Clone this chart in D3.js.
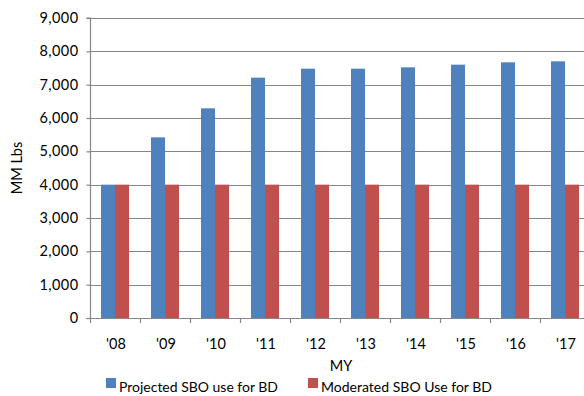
<!DOCTYPE html>
<html>
<head>
<meta charset="utf-8">
<script src="https://cdn.jsdelivr.net/npm/d3@7"></script>
<style>
  html, body { margin: 0; padding: 0; background: #fff; }
  svg { display: block; }
  text { font-family: Lato, "Open Sans", sans-serif; fill: #000; }
</style>
</head>
<body>
<svg id="chart" width="584" height="396"></svg>
<script>
// Marketing years and soybean oil (SBO) use for biodiesel, million lbs
const years = ["'08", "'09", "'10", "'11", "'12", "'13", "'14", "'15", "'16", "'17"];
const projected = [4000, 5420, 6290, 7210, 7480, 7480, 7520, 7600, 7670, 7700];
const moderated = [4000, 4000, 4000, 4000, 4000, 4000, 4000, 4000, 4000, 4000];
const seriesNames = ["Projected SBO use for BD", "Moderated SBO Use for BD"];
const seriesColors = ["#4F81BD", "#C0504D"];
const yTicks = [0, 1000, 2000, 3000, 4000, 5000, 6000, 7000, 8000, 9000];

const svg = d3.select("#chart");
const W = 584, H = 396;
const m = { left: 90, top: 18, right: 590, bottom: 318 };

const x0 = d3.scaleBand().domain(years).range([m.left, m.right])
  .paddingInner(0.44).paddingOuter(0.22);
const x1 = d3.scaleBand().domain([0, 1]).range([0, x0.bandwidth()]);
const y = d3.scaleLinear().domain([0, 9000]).range([m.bottom, m.top]);

const grid = "#868686";

// horizontal gridlines
svg.append("g").selectAll("line").data(yTicks.filter(d => d > 0)).join("line")
  .attr("x1", m.left).attr("x2", W)
  .attr("y1", d => Math.round(y(d)) + 0.5).attr("y2", d => Math.round(y(d)) + 0.5)
  .attr("stroke", grid).attr("stroke-width", 1.2);

// bars
const data = years.map((yr, i) => ({ yr, vals: [projected[i], moderated[i]] }));
const groups = svg.append("g").selectAll("g").data(data).join("g")
  .attr("transform", d => `translate(${x0(d.yr)},0)`);
groups.selectAll("rect").data(d => d.vals.map((v, k) => ({ v, k }))).join("rect")
  .attr("x", d => x1(d.k))
  .attr("width", x1.bandwidth())
  .attr("y", d => y(d.v))
  .attr("height", d => y(0) - y(d.v))
  .attr("fill", d => seriesColors[d.k]);

// y axis
const yAxis = d3.axisLeft(y).tickValues(yTicks).tickSize(4).tickPadding(8)
  .tickFormat(d3.format(","));
const yg = svg.append("g").attr("transform", `translate(${m.left + 0.5},0)`).call(yAxis);
yg.select(".domain").attr("stroke", grid).attr("stroke-width", 1.2).attr("d", `M-4,${m.top}H0V${m.bottom + 0.5}`);
yg.selectAll(".tick line").attr("stroke", grid).attr("stroke-width", 1.2);
yg.selectAll(".tick text").style("font-size", "14.5px").style("font-family", "Lato, sans-serif")
  .style("letter-spacing", "0.4px").attr("fill", "#000");

// x axis: tick marks at category boundaries
const xg = svg.append("g");
xg.append("line").attr("x1", m.left - 4).attr("x2", W)
  .attr("y1", m.bottom + 0.5).attr("y2", m.bottom + 0.5)
  .attr("stroke", grid).attr("stroke-width", 1.2);
const step = x0.step();
xg.selectAll("line.tk").data(d3.range(years.length + 1)).join("line").attr("class", "tk")
  .attr("x1", i => x0(years[0]) - x0.paddingOuter() * step + i * step + 0.5)
  .attr("x2", i => x0(years[0]) - x0.paddingOuter() * step + i * step + 0.5)
  .attr("y1", m.bottom).attr("y2", m.bottom + 5)
  .attr("stroke", grid).attr("stroke-width", 1.2);
xg.selectAll("text").data(years).join("text")
  .attr("x", d => x0(d) + x0.bandwidth() / 2 + 1)
  .attr("y", 349)
  .attr("text-anchor", "middle")
  .style("font-size", "14.5px")
  .text(d => d);

// axis titles
svg.append("text").attr("x", 341).attr("y", 371).attr("text-anchor", "middle")
  .style("font-size", "14.5px").text("MY");
svg.append("text").attr("transform", "translate(22,168) rotate(-90)")
  .attr("text-anchor", "middle").style("font-size", "14.5px").text("MM Lbs");

// legend
const legendX = [106, 308];
const legendTextLen = [159, 171];
const lg = svg.append("g").selectAll("g").data(seriesNames).join("g")
  .attr("transform", (d, i) => `translate(${legendX[i]},0)`);
lg.append("rect").attr("x", 0).attr("y", 378).attr("width", 10).attr("height", 10)
  .attr("fill", (d, i) => seriesColors[i]);
lg.append("text").attr("x", 13).attr("y", 392).style("font-size", "14px")
  .attr("textLength", (d, i) => legendTextLen[i]).attr("lengthAdjust", "spacingAndGlyphs")
  .text(d => d);
</script>
</body>
</html>
